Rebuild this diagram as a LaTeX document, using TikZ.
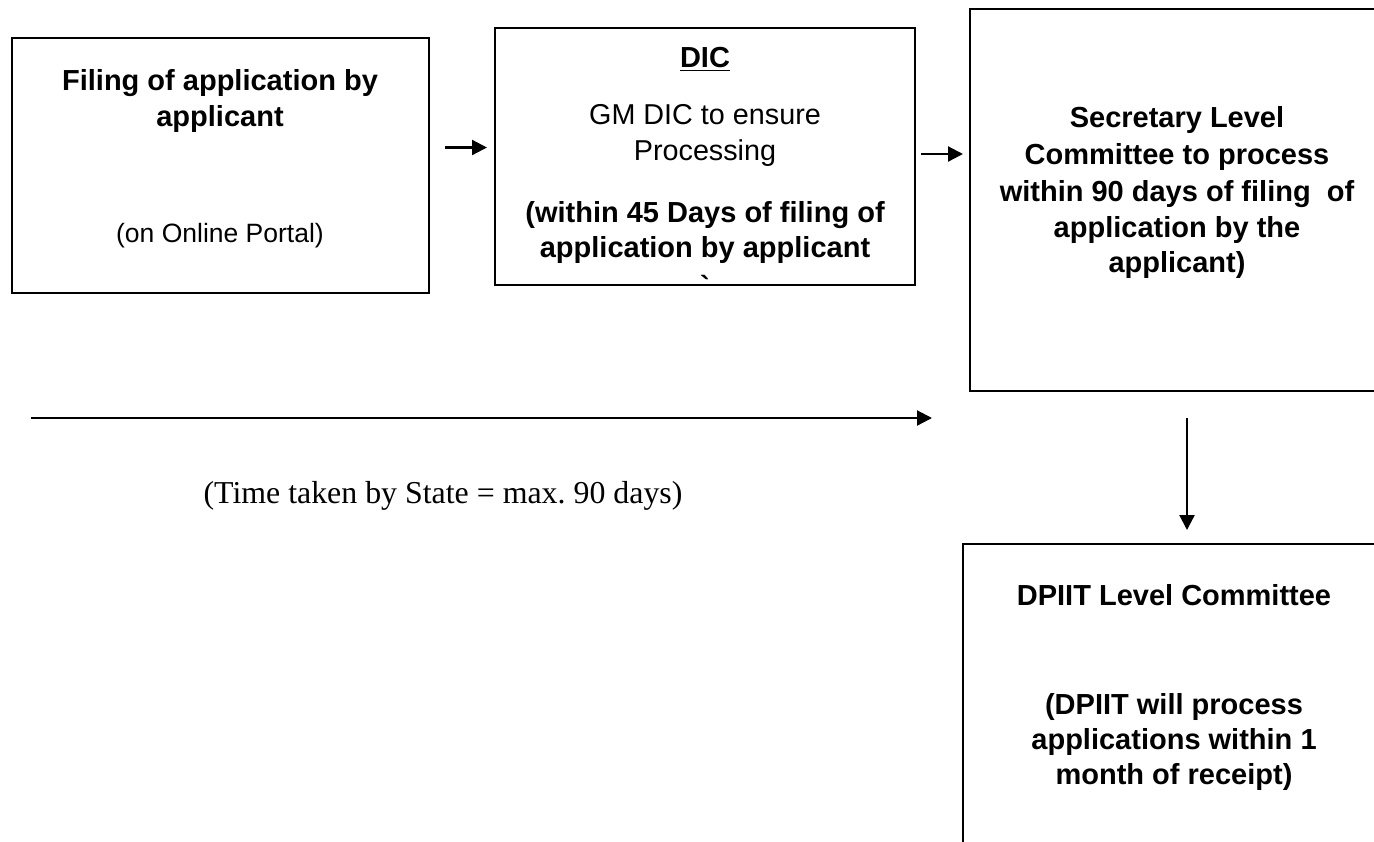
\documentclass[tikz,border=0pt]{standalone}
\usepackage{fontspec}
\setmainfont{Liberation Sans}
\newfontfamily\timesfont{Liberation Serif}
\usetikzlibrary{arrows.meta}
\usetikzlibrary{fit}

\begin{document}
\begin{tikzpicture}[x=0.4pt, y=-0.4pt,
  box/.style={draw, line width=0.9pt, inner sep=0pt, outer sep=0pt},
  hd/.style={font=\fontsize{11.6}{14}\selectfont\bfseries, inner sep=0pt, anchor=base},
  rg/.style={font=\fontsize{10.6}{13}\selectfont, inner sep=0pt, anchor=base},
  arr/.style={line width=0.9pt, -{Triangle[length=6pt,width=6pt]}}]
\useasboundingbox (0,0) rectangle (1374,841);
\clip (0,0) rectangle (1374,841);
% boxes
\node[box, fit={(12,38) (429,293)}] (filing) {};
\node[box, fit={(495,28) (915,285)}] (dic) {};
\node[box, fit={(970,9) (1385,391)}] (slc) {};
\node[box, fit={(963,544) (1385,900)}] (dpiit) {};
% texts
\foreach \t/\y [count=\i] in {Filing of application by/90, applicant/126}
  \node[hd] (fil\i) at (220,\y) {\t};
\node[rg] (portal) at (220,242) {(on Online Portal)};
\node[hd] (dichd) at (705,67) {\underline{DIC}};
\foreach \t/\y [count=\i] in {GM DIC to ensure/124, Processing/160}
  \node[rg, font=\fontsize{11.5}{14}\selectfont] (gm\i) at (705,\y) {\t};
\foreach \t/\y [count=\i] in {{(within 45 Days of filing of}/222, {application by applicant}/257, {\textasciigrave}/296}
  \node[hd] (days\i) at (705,\y) {\t};
\foreach \t/\y [count=\i] in {Secretary Level/127, Committee to process/164, {within 90 days of filing\ \ of}/201, application by the/237, {applicant)}/272}
  \node[hd] (sec\i) at (1177,\y) {\t};
\node[hd] (dp1) at (1174,605) {DPIIT Level Committee};
\foreach \t/\y [count=\i] in {{(DPIIT will process}/714, {applications within 1}/749, {month of receipt)}/784}
  \node[hd] (dp\i b) at (1174,\y) {\t};
\node[anchor=base, inner sep=0pt, font=\timesfont\fontsize{12.75}{15}\selectfont] (time) at (443,503) {(Time taken by State = max.\ 90 days)};
% arrows
\coordinate (t0) at (31,418);
\coordinate (t1) at (932,418);
\draw[arr] ([shift={(16,-18)}]filing.east) -- ([shift={(-8,-9)}]dic.west);
\draw[arr] ([shift={(6,-2.5)}]dic.east) -- ([shift={(-7,-46)}]slc.west);
\draw[arr] (t0) -- (t1);
\draw[arr] ([shift={(9.5,27)}]slc.south) -- ([shift={(13,-14)}]dpiit.north);
\end{tikzpicture}
\end{document}
